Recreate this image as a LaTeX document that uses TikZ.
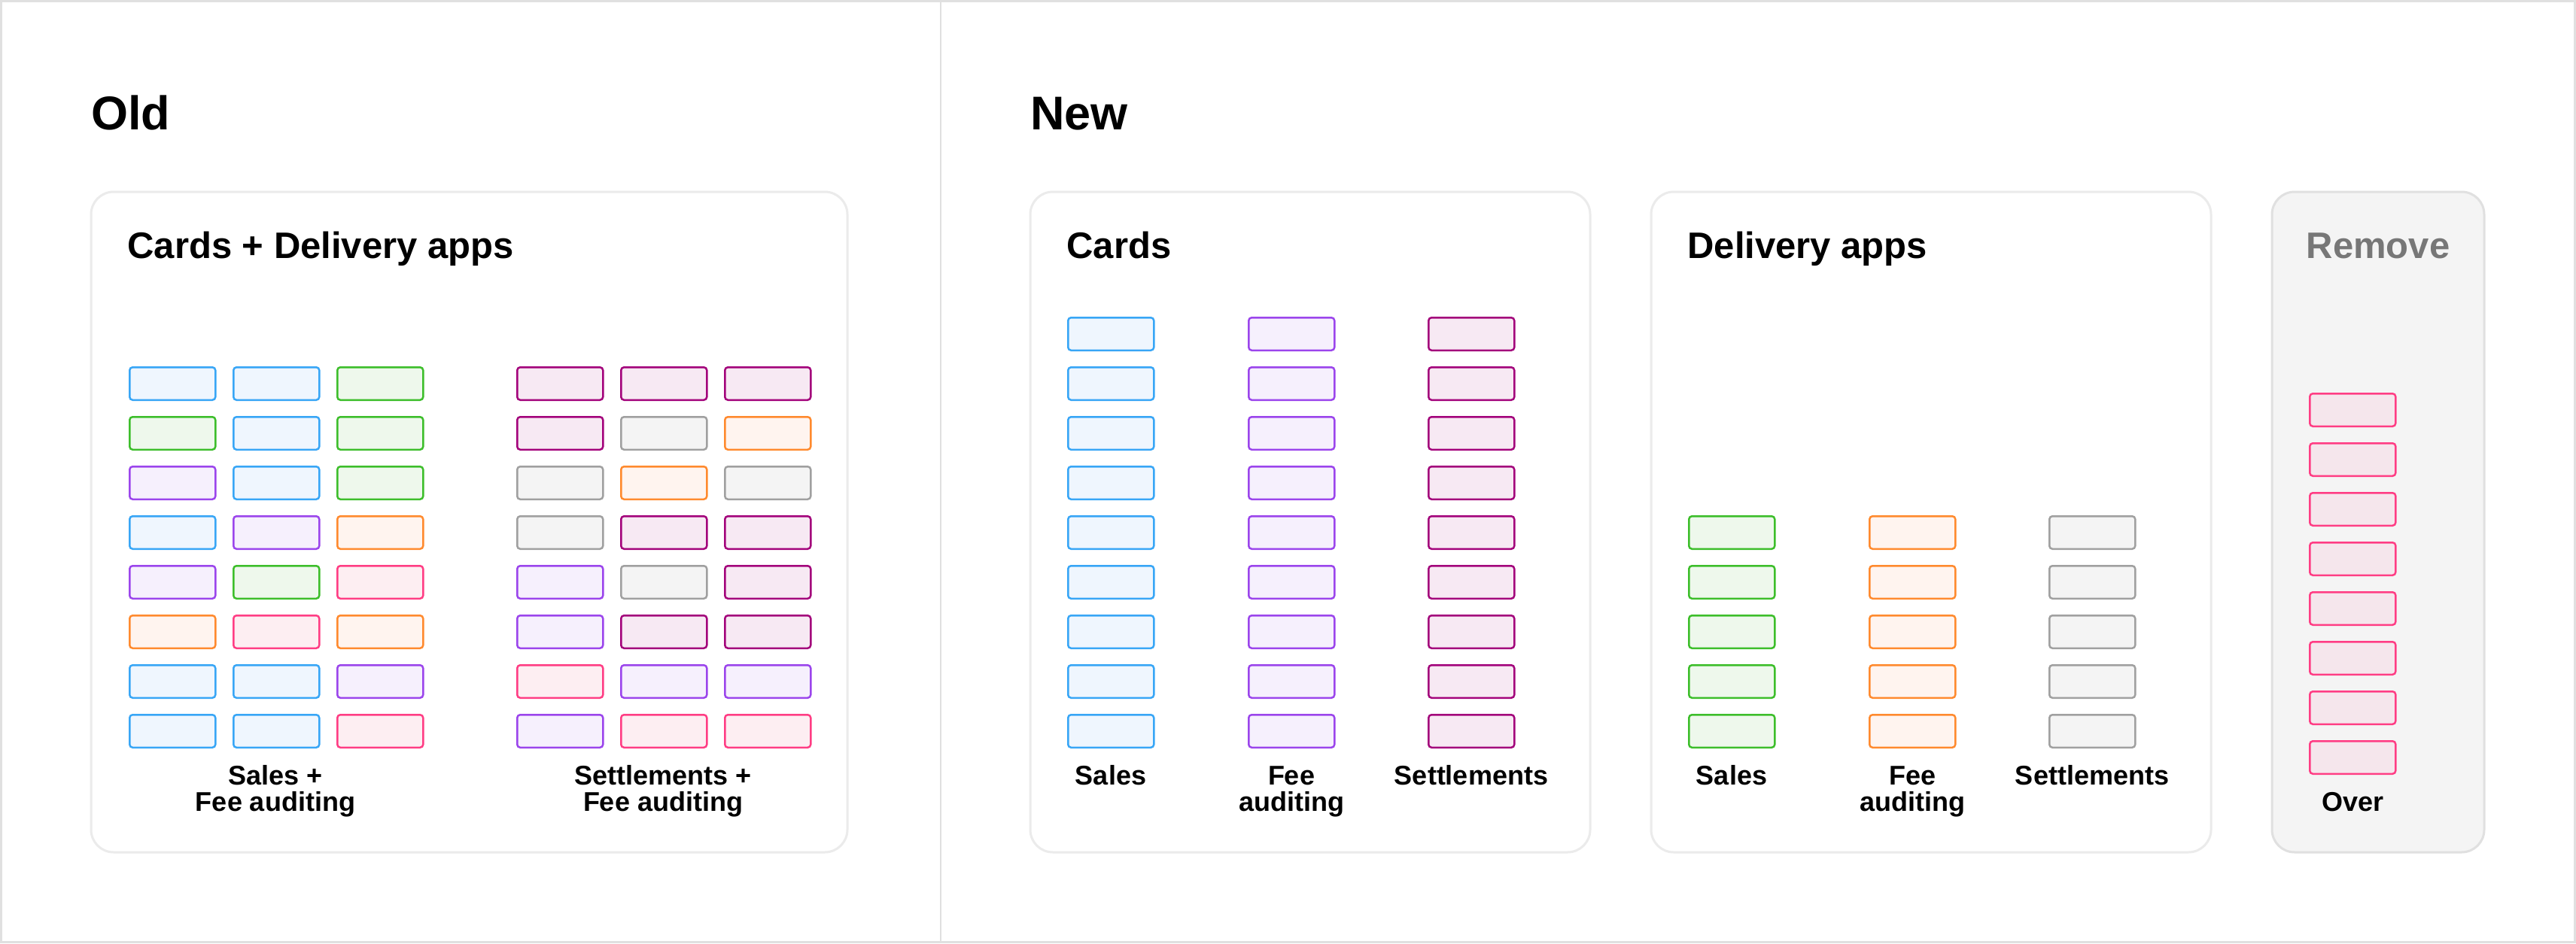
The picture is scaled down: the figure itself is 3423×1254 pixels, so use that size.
\documentclass[tikz,border=0pt]{standalone}
\usepackage{fontspec}
\setmainfont{Liberation Sans}
\definecolor{bB}{HTML}{38A6F6}\definecolor{fB}{HTML}{EFF6FE}
\definecolor{bP}{HTML}{9B45EC}\definecolor{fP}{HTML}{F6F0FD}
\definecolor{bM}{HTML}{A3037B}\definecolor{fM}{HTML}{F7E9F3}
\definecolor{bG}{HTML}{3DBE2B}\definecolor{fG}{HTML}{EEF8EC}
\definecolor{bO}{HTML}{FF8A2E}\definecolor{fO}{HTML}{FFF4EF}
\definecolor{bY}{HTML}{A0A0A0}\definecolor{fY}{HTML}{F4F4F4}
\definecolor{bK}{HTML}{FF3D84}\definecolor{fK}{HTML}{FDEEF2}
\definecolor{fKg}{HTML}{F5E6EC}
\definecolor{panelB}{HTML}{EBEBEB}
\definecolor{remB}{HTML}{E0E0E0}\definecolor{remF}{HTML}{F4F4F4}
\definecolor{frameB}{HTML}{E0E0E0}
\definecolor{remT}{HTML}{777777}
\tikzset{
  bx/.style={rounded corners=2pt, line width=1.25pt, minimum width=57pt,
    minimum height=21.75pt, inner sep=0pt, anchor=north west},
  cB/.style={draw=bB, fill=fB}, cP/.style={draw=bP, fill=fP},
  cM/.style={draw=bM, fill=fM}, cG/.style={draw=bG, fill=fG},
  cO/.style={draw=bO, fill=fO}, cY/.style={draw=bY, fill=fY},
  cK/.style={draw=bK, fill=fK}, cKg/.style={draw=bK, fill=fKg},
  panel/.style={draw=panelB, fill=white, line width=1.5pt, rounded corners=15pt},
  heading/.style={inner sep=0pt, anchor=base west, font=\fontsize{31.5}{36}\selectfont\bfseries},
  ptitle/.style={inner sep=0pt, anchor=base west, font=\fontsize{24.5}{28}\selectfont\bfseries},
  lbl/.style={inner sep=0pt, anchor=base, align=center, font=\fontsize{18}{17.5}\selectfont\bfseries},
}
\begin{document}
\begin{tikzpicture}[x=0.5pt, y=-0.5pt]
\useasboundingbox (0,0) rectangle (3423,1254);
\fill[white] (0,0) rectangle (3423,1254);
\draw[frameB, line width=1.5pt] (1.5,1.5) rectangle (3421.5,1252.5);
\draw[frameB, line width=1pt] (1250,0) -- (1250,1254);

% headings
\node[heading] (old) at (121,172) {Old};
\node[heading] (new) at (1369,172) {New};

% panels
\draw[panel] (121,255) rectangle (1126,1133);
\draw[panel] (1369,255) rectangle (2113,1133);
\draw[panel] (2194,255) rectangle (2938,1133);
\draw[panel, draw=remB, fill=remF] (3019,255) rectangle (3301,1133);

% panel titles
\node[ptitle] (t-old) at (169,343) {Cards + Delivery apps};
\node[ptitle] (t-cards) at (1417,343) {Cards};
\node[ptitle] (t-del) at (2242,343) {Delivery apps};
\node[ptitle, anchor=base, text=remT] (t-rem) at (3160,343) {Remove};

% old left group
\foreach \cl [count=\i from 0] in {B,B,G, G,B,G, P,B,G, B,P,O, P,G,K, O,K,O, B,B,P, B,B,K}{
  \pgfmathtruncatemacro\r{div(\i,3)}
  \pgfmathtruncatemacro\k{mod(\i,3)}
  \node[bx, c\cl] (ol-\r-\k) at ({171+138*\k}, {487+66*\r}) {};
}
% old right group
\foreach \cl [count=\i from 0] in {M,M,M, M,Y,O, Y,O,Y, Y,M,M, P,Y,M, P,M,M, K,P,P, P,K,K}{
  \pgfmathtruncatemacro\r{div(\i,3)}
  \pgfmathtruncatemacro\k{mod(\i,3)}
  \node[bx, c\cl] (or-\r-\k) at ({686+138*\k}, {487+66*\r}) {};
}
% cards
\foreach \r in {0,...,8}{
  \node[bx, cB] (ca-\r-0) at (1418, {421+66*\r}) {};
  \node[bx, cP] (ca-\r-1) at (1658, {421+66*\r}) {};
  \node[bx, cM] (ca-\r-2) at (1897, {421+66*\r}) {};
}
% delivery apps
\foreach \r in {0,...,4}{
  \node[bx, cG] (da-\r-0) at (2243, {685+66*\r}) {};
  \node[bx, cO] (da-\r-1) at (2483, {685+66*\r}) {};
  \node[bx, cY] (da-\r-2) at (2722, {685+66*\r}) {};
}
% remove
\foreach \r in {0,...,7}{
  \node[bx, cKg] (rm-\r) at (3068, {522+66*\r}) {};
}

% labels
\node[lbl] (l-ol) at (366,1078) {Sales +\\Fee auditing};
\node[lbl] (l-or) at (881,1078) {Settlements +\\Fee auditing};
\node[lbl] (l-c1) at (1476,1043) {Sales};
\node[lbl] (l-c2) at (1716,1078) {Fee\\auditing};
\node[lbl] (l-c3) at (1955,1043) {Settlements};
\node[lbl] (l-d1) at (2301,1043) {Sales};
\node[lbl] (l-d2) at (2541,1078) {Fee\\auditing};
\node[lbl] (l-d3) at (2780,1043) {Settlements};
\node[lbl] (l-over) at (3126,1078) {Over};
\end{tikzpicture}
\end{document}
